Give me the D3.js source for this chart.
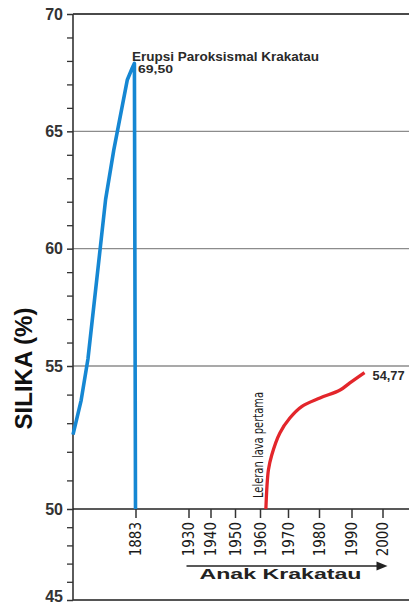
<!DOCTYPE html>
<html>
<head>
<meta charset="utf-8">
<script src="https://cdn.jsdelivr.net/npm/d3@7"></script>
<style>
  html, body { margin: 0; padding: 0; background: #fff; }
  svg { display: block; }
</style>
</head>
<body>
<svg id="chart" width="409" height="605"></svg>
<script>
// ---------- data ----------
const majorTicksY = [45, 50, 55, 60, 65, 70];
const minorTicksY = [46, 47, 48, 49, 51, 52, 53, 54, 56, 57, 58, 59, 61, 62, 63, 64, 66, 67, 68, 69];
const yearTicks = [1883, 1930, 1940, 1950, 1960, 1970, 1980, 1990, 2000];

// Krakatau (before/at 1883 paroxysmal eruption)
const krakatauYears  = [1860, 1863, 1865.5, 1870, 1872, 1875, 1880, 1881.8, 1882.6, 1883];
const krakatauSilica = [52.6, 53.8, 55.3, 60.0, 62.1, 64.2, 67.2, 67.7, 67.9, 50.0];

// Anak Krakatau (after first lava flow)
const anakYears  = [1962.1, 1963.0, 1964.2, 1967.1, 1970.6, 1974.4, 1980.3, 1986.5, 1989.5, 1994.2];
const anakSilica = [50.0, 51.36, 51.89, 52.66, 53.18, 53.58, 53.88, 54.16, 54.41, 54.77];

const labelPeak = "69,50";
const labelLast = "54,77";

// ---------- layout ----------
const svg = d3.select("#chart");
const left = 73, right = 409;

const y = d3.scaleLinear()
  .domain([45, 50, 55, 70])
  .range([600, 509, 366, 14]);

const x = d3.scaleLinear()
  .domain([1860, 1883, 1930, 1940, 1950, 1960, 1970, 1980, 1990, 2000])
  .range([73, 135.5, 188.5, 210.5, 235, 260, 288, 319, 351.5, 382.5]);

// grid lines
svg.append("g")
  .selectAll("line")
  .data([55, 60, 65])
  .join("line")
  .attr("x1", left).attr("x2", right)
  .attr("y1", d => y(d)).attr("y2", d => y(d))
  .attr("stroke", "#8c8c8c").attr("stroke-width", 1.4);

// top line (70)
svg.append("line")
  .attr("x1", left).attr("x2", right)
  .attr("y1", y(70)).attr("y2", y(70))
  .attr("stroke", "#4a4a4a").attr("stroke-width", 2);

// bottom line (45)
svg.append("line")
  .attr("x1", left).attr("x2", right)
  .attr("y1", y(45)).attr("y2", y(45))
  .attr("stroke", "#555").attr("stroke-width", 1.8);

// y axis minor ticks
const yMinor = svg.append("g")
  .attr("transform", `translate(${left},0)`)
  .call(d3.axisLeft(y).tickValues(minorTicksY).tickSize(6).tickFormat(""));
yMinor.select(".domain").remove();
yMinor.selectAll(".tick line").attr("stroke", "#333").attr("stroke-width", 1.3);

// y axis major
const yAxis = svg.append("g")
  .attr("transform", `translate(${left},0)`)
  .call(d3.axisLeft(y).tickValues(majorTicksY).tickSize(6).tickPadding(4).tickFormat(d3.format("d")));
yAxis.select(".domain")
  .attr("d", `M0,${y(70)}V${y(45)}`)
  .attr("stroke", "#333").attr("stroke-width", 1.6);
yAxis.selectAll(".tick line").attr("stroke", "#333").attr("stroke-width", 1.5);
yAxis.selectAll(".tick text")
  .attr("font-family", "Arial, 'Liberation Sans', sans-serif")
  .attr("font-weight", "bold")
  .attr("font-size", "16px")
  .attr("fill", "#333")
  .attr("dy", d => d === 45 ? "0.12em" : "0.32em");

// x axis baseline at 50
svg.append("line")
  .attr("x1", left).attr("x2", right)
  .attr("y1", y(50)).attr("y2", y(50))
  .attr("stroke", "#222").attr("stroke-width", 1.6);

const xAxis = svg.append("g")
  .attr("transform", `translate(0,${y(50)})`)
  .call(d3.axisBottom(x).tickValues(yearTicks).tickSize(9).tickFormat(d3.format("d")));
xAxis.select(".domain").remove();
xAxis.selectAll(".tick line").attr("stroke", "#333").attr("stroke-width", 1.5);
xAxis.selectAll(".tick text")
  .attr("transform", "rotate(-90)")
  .attr("x", -13).attr("y", 0).attr("dy", "0.36em")
  .attr("text-anchor", "end")
  .attr("font-family", "'Liberation Sans Narrow', 'Arial Narrow', 'DejaVu Sans Condensed', sans-serif")
  .attr("font-size", "15px")
  .attr("fill", "#1a1a1a");

// ---------- series ----------
const blueData = krakatauYears.map((d, i) => [d, krakatauSilica[i]]);
const redData = anakYears.map((d, i) => [d, anakSilica[i]]);

svg.append("path")
  .datum(blueData)
  .attr("fill", "none")
  .attr("stroke", "#1587d3")
  .attr("stroke-width", 3.6)
  .attr("stroke-linejoin", "round")
  .attr("d", d3.line().x(d => x(d[0])).y(d => y(d[1])).curve(d3.curveLinear));

svg.append("path")
  .datum(redData)
  .attr("fill", "none")
  .attr("stroke", "#e3262b")
  .attr("stroke-width", 3.3)
  .attr("stroke-linejoin", "round")
  .attr("d", d3.line().x(d => x(d[0])).y(d => y(d[1])).curve(d3.curveCatmullRom.alpha(0.5)));

// ---------- annotations ----------
const peak = blueData[blueData.length - 2];
svg.append("text")
  .attr("x", x(1883) - 3.5).attr("y", y(peak[1]) - 2)
  .attr("font-family", "Arial, 'Liberation Sans', sans-serif")
  .attr("font-weight", "bold").attr("font-size", "12.5px")
  .attr("fill", "#2a2a2a")
  .attr("textLength", 187).attr("lengthAdjust", "spacingAndGlyphs")
  .text("Erupsi Paroksismal Krakatau");

svg.append("text")
  .attr("x", x(1883) + 2.5).attr("y", y(peak[1]) + 10)
  .attr("font-family", "Arial, 'Liberation Sans', sans-serif")
  .attr("font-weight", "bold").attr("font-size", "11.5px")
  .attr("fill", "#2a2a2a")
  .attr("textLength", 35).attr("lengthAdjust", "spacingAndGlyphs")
  .text(labelPeak);

const last = redData[redData.length - 1];
svg.append("text")
  .attr("x", x(last[0]) + 8).attr("y", y(last[1]) + 7)
  .attr("font-family", "Arial, 'Liberation Sans', sans-serif")
  .attr("font-weight", "bold").attr("font-size", "12px")
  .attr("fill", "#2a2a2a")
  .attr("textLength", 32).attr("lengthAdjust", "spacingAndGlyphs")
  .text(labelLast);

svg.append("text")
  .attr("transform", `translate(${x(1960) + 3},${y(50) - 11}) rotate(-90)`)
  .attr("text-anchor", "start")
  .attr("font-family", "'Liberation Sans Narrow', 'Arial Narrow', 'DejaVu Sans Condensed', sans-serif")
  .attr("font-size", "14.5px")
  .attr("fill", "#1a1a1a")
  .attr("textLength", 106).attr("lengthAdjust", "spacingAndGlyphs")
  .text("Leleran lava pertama");

// y axis title
svg.append("text")
  .attr("transform", `translate(32,${(y(55) + y(50)) / 2 - 69}) rotate(-90)`)
  .attr("text-anchor", "middle")
  .attr("font-family", "Arial, 'Liberation Sans', sans-serif")
  .attr("font-weight", "bold").attr("font-size", "24px")
  .attr("fill", "#111")
  .text("SILIKA (%)");

// Anak Krakatau arrow
const arrowY = 566;
svg.append("line")
  .attr("x1", x(1930) - 2).attr("x2", x(2000) - 4)
  .attr("y1", arrowY).attr("y2", arrowY)
  .attr("stroke", "#222").attr("stroke-width", 1.6);
svg.append("path")
  .attr("d", `M${x(2000) + 5},${arrowY} L${x(2000) - 6},${arrowY - 4.5} L${x(2000) - 6},${arrowY + 4.5} Z`)
  .attr("fill", "#222");

svg.append("text")
  .attr("x", x(1930) + 11).attr("y", 579)
  .attr("font-family", "Arial, 'Liberation Sans', sans-serif")
  .attr("font-weight", "bold").attr("font-size", "15.5px")
  .attr("fill", "#222")
  .attr("textLength", 162).attr("lengthAdjust", "spacingAndGlyphs")
  .text("Anak Krakatau");
</script>
</body>
</html>
